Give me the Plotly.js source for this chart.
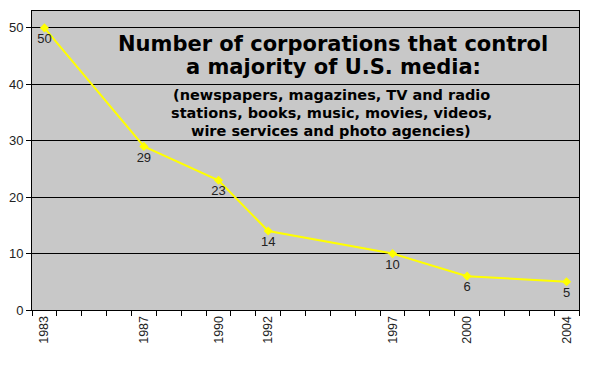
<!DOCTYPE html>
<html>
<head>
<meta charset="utf-8">
<script src="https://cdn.plot.ly/plotly-3.0.1.min.js"></script>
<style>html,body{margin:0;padding:0;background:#fff;}#chart{width:600px;height:366px;}</style>
</head>
<body>
<div id="chart"></div>
<script>
const years = [1983, 1987, 1990, 1992, 1997, 2000, 2004];
const corporations = [50, 29, 23, 14, 10, 6, 5];
const yearLabels = ['1983', '1987', '1990', '1992', '1997', '2000', '2004'];
const titleLines = ['Number of corporations that control', 'a majority of U.S. media:'];
const subtitleLines = ['(newspapers, magazines, TV and radio', 'stations, books, music, movies, videos,', 'wire services and photo agencies)'];

const trace = {
  x: years,
  y: corporations,
  type: 'scatter',
  mode: 'lines+markers+text',
  line: {color: '#ffff00', width: 2},
  marker: {color: '#ffff00', symbol: 'diamond', size: 7},
  text: corporations.map(String),
  textposition: 'bottom center',
  textfont: {family: 'Liberation Sans, Arial, sans-serif', size: 13, color: '#222'},
  cliponaxis: false,
  hoverinfo: 'x+y'
};

// plot area in pixels: left 32, right 579, top 11, bottom 310
const px = x => (x - 32) / 547;
const py = y => (310 - y) / 299;
const titleY = [44, 67];
const subY = [95, 113, 131];

const annotations = [];
titleLines.forEach((t, i) => annotations.push({
  xref: 'paper', yref: 'paper', x: px(333), y: py(titleY[i]),
  xanchor: 'center', yanchor: 'middle', showarrow: false,
  text: '<b>' + t + '</b>',
  font: {family: 'DejaVu Sans, sans-serif', size: 21, color: '#000'}
}));
subtitleLines.forEach((t, i) => annotations.push({
  xref: 'paper', yref: 'paper', x: px(331), y: py(subY[i]),
  xanchor: 'center', yanchor: 'middle', showarrow: false,
  text: '<b>' + t + '</b>',
  font: {family: 'DejaVu Sans, sans-serif', size: 14.5, color: '#000'}
}));

const layout = {
  width: 600, height: 366,
  margin: {l: 32, r: 21, t: 11, b: 56},
  paper_bgcolor: '#ffffff',
  plot_bgcolor: '#c8c8c8',
  showlegend: false,
  font: {family: 'Liberation Sans, Arial, sans-serif', size: 13, color: '#222'},
  xaxis: {
    range: [1982.5, 2004.5],
    tickmode: 'array',
    tickvals: years,
    ticktext: yearLabels,
    tickangle: -90,
    ticks: '',
    showgrid: false,
    zeroline: false,
    showline: true,
    linecolor: '#000',
    linewidth: 1,
    mirror: true,
    tickfont: {size: 12.5, color: '#222'},
    minor: {tickmode: 'linear', tick0: 1982.5, dtick: 1, ticks: 'outside', ticklen: 5, tickcolor: '#000', tickwidth: 1, showgrid: false}
  },
  yaxis: {
    range: [0, 53],
    tickmode: 'linear',
    tick0: 0,
    dtick: 10,
    ticks: 'outside',
    ticklen: 5,
    tickcolor: '#000',
    showgrid: true,
    gridcolor: '#000',
    gridwidth: 1,
    zeroline: false,
    showline: true,
    linecolor: '#000',
    linewidth: 1,
    mirror: true,
    tickfont: {size: 13, color: '#222'}
  },
  annotations: annotations
};

Plotly.newPlot('chart', [trace], layout, {displayModeBar: false, staticPlot: true});
</script>
</body>
</html>
